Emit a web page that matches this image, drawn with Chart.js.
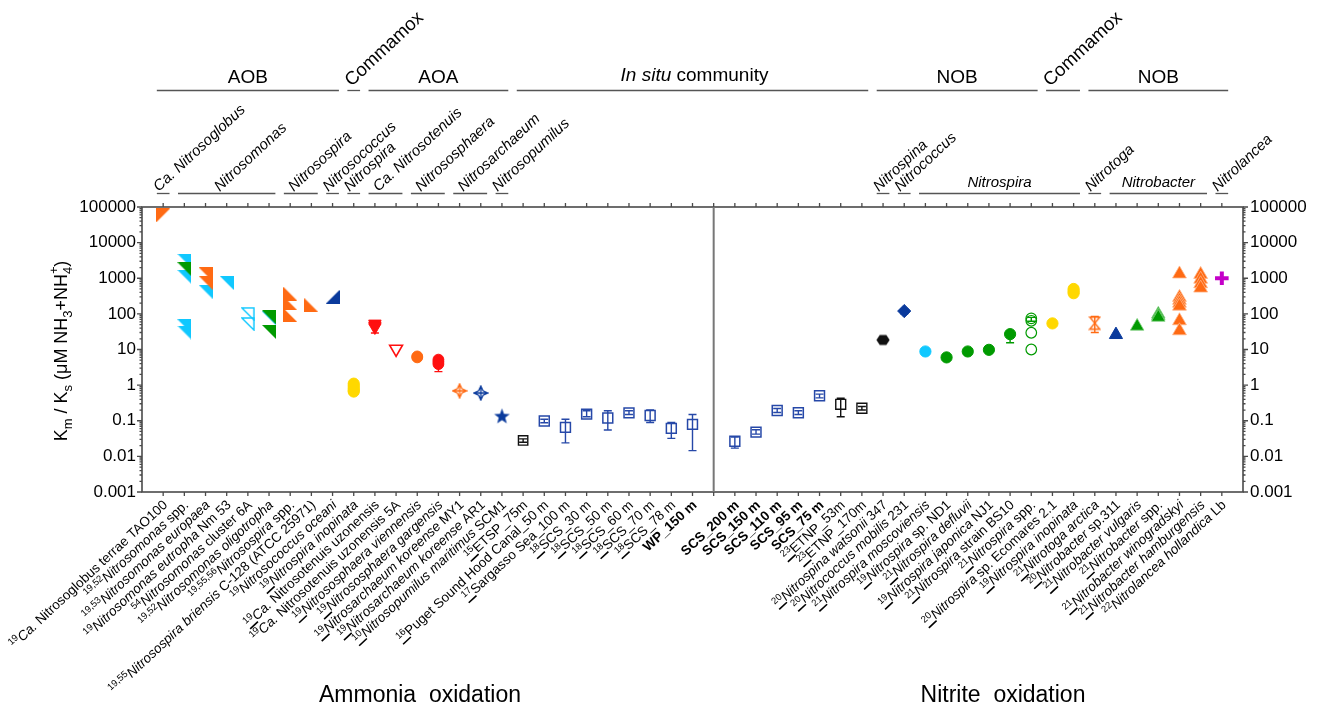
<!DOCTYPE html>
<html>
<head>
<meta charset="utf-8">
<script src="https://cdn.jsdelivr.net/npm/chart.js@4.4.1/dist/chart.umd.min.js"></script>
<style>
html,body{margin:0;padding:0;background:#ffffff;}
canvas{display:block;}
</style>
</head>
<body>
<canvas id="chart" width="1318" height="707"></canvas>
<script>
// ---------- x categories: [reference, underlined ref, italic part, plain part, bold part] ----------
const tickLabels = [
  ["19",0,"Ca."," Nitrosoglobus terrae TAO100",""],
  ["19,52",0,"Nitrosomonas"," spp.",""],
  ["19,53",0,"Nitrosomonas europaea","",""],
  ["19",0,"Nitrosomonas eutropha"," Nm 53",""],
  ["54",0,"Nitrosomonas"," cluster 6A",""],
  ["19,52",0,"Nitrosomonas oligotropha","",""],
  ["19,55,56",0,"Nitrosospira"," spp.",""],
  ["19,55",0,"Nitrosospira briensis"," C-128 (ATCC 25971)",""],
  ["19",0,"Nitrosococcus oceani","",""],
  ["19",1,"Nitrospira inopinata","",""],
  ["19",1,"Ca."," Nitrosotenuis uzonensis",""],
  ["19",0,"Ca."," Nitrosotenuis uzonensis 5A",""],
  ["19",1,"Nitrososphaera viennensis","",""],
  ["19",1,"Nitrososphaera gargensis","",""],
  ["19",1,"Nitrosarchaeum koreense"," MY1",""],
  ["19",1,"Nitrosarchaeum koreense"," AR1",""],
  ["10",1,"Nitrosopumilus maritimus"," SCM1",""],
  ["15",1,"","ETSP_75m",""],
  ["16",1,"","Puget Sound Hood Canal_50 m",""],
  ["17",1,"","Sargasso Sea_100 m",""],
  ["18",1,"","SCS_30 m",""],
  ["18",1,"","SCS_50 m",""],
  ["18",1,"","SCS_60 m",""],
  ["18",1,"","SCS_70 m",""],
  ["18",1,"","SCS_78 m",""],
  ["",0,"","","WP_150 m"],
  ["",0,"","",""],
  ["",0,"","","SCS_200 m"],
  ["",0,"","","SCS_150 m"],
  ["",0,"","","SCS_110 m"],
  ["",0,"","","SCS_95 m"],
  ["",0,"","","SCS_75 m"],
  ["23",1,"","ETNP_53m",""],
  ["23",1,"","ETNP_170m",""],
  ["20",1,"Nitrospina watsonii"," 347",""],
  ["20",1,"Nitrococcus mobilis"," 231",""],
  ["21",1,"Nitrospira moscoviensis","",""],
  ["19",1,"Nitrospira"," sp. ND1",""],
  ["21",1,"Nitrospira defluvii","",""],
  ["19",1,"Nitrospira japonica"," NJ1",""],
  ["21",1,"Nitrospira"," strain BS10",""],
  ["21",1,"Nitrospira"," spp.",""],
  ["20",1,"Nitrospira"," sp. Ecomares 2.1",""],
  ["19",1,"Nitrospira inopinata","",""],
  ["21",1,"Nitrotoga arctica","",""],
  ["20",1,"Nitrobacter"," sp.311",""],
  ["21",1,"Nitrobacter vulgaris","",""],
  ["21",1,"Nitrobacter"," spp.",""],
  ["21",1,"Nitrobacter winogradskyi","",""],
  ["21",1,"Nitrobacter hamburgensis","",""],
  ["22",0,"Nitrolancea hollandica"," Lb",""]
];

const yTickValues = [0.001,0.01,0.1,1,10,100,1000,10000,100000];
const yTickLabels = ["0.001","0.01","0.1","1","10","100","1000","10000","100000"];

// group headers: [text, first category, last category, kind]
const groupRow = [
  ["AOB",0,8,"flat"],["Commamox",9,9,"rot"],["AOA",10,16,"flat"],
  ["community",17,33,"insitu"],["NOB",34,41,"flat"],["Commamox",42,43,"rot"],["NOB",44,50,"flat"]
];
const genusRow = [
  ["Ca. Nitrosoglobus",0,0,"rot"],["Nitrosomonas",1,5,"rot"],["Nitrosospira",6,7,"rot"],
  ["Nitrosococcus",8,8,"rot"],["Nitrospira",9,9,"rot"],["Ca. Nitrosotenuis",10,11,"rot"],
  ["Nitrososphaera",12,13,"rot"],["Nitrosarchaeum",14,15,"rot"],["Nitrosopumilus",16,16,"rot"],
  ["Nitrospina",34,34,"rot"],["Nitrococcus",35,35,"rot"],["Nitrospira",36,43,"flat"],
  ["Nitrotoga",44,44,"rot"],["Nitrobacter",45,49,"flat"],["Nitrolancea",50,50,"rot"]
];
const bottomTitles = ["Ammonia  oxidation","Nitrite  oxidation"];

// ---------- data: [category index, value, (error low, error high)] ----------
const nitrosoglobusOrange = [[0,58000]];
const nitrosomonasOrange = [[2,1300],[2,750]];
const nitrosomonasGreen = [[1,1800],[5,80],[5,31]];
const nitrosomonasCyan = [[1,3100],[1,1100],[1,45],[1,30],[2,420],[3,740],[5,75]];
const nitrosomonasCyanOpen = [[4,100],[4,52]];
const nitrosospiraOrange = [[6,370],[6,200],[6,93],[7,175]];
const nitrosococcusNavy = [[8,300]];
const comammoxAOBYellow = [[9,1.1],[9,0.95],[9,0.82],[9,0.72],[9,0.66]];
const nitrosotenuisRed = [[10,53],[10,47,29,52],[10,42]];
const nitrosotenuis5ARed = [[11,10.4]];
const viennensisOrange = [[12,6.4],[12,6.0]];
const gargensisRed = [[13,5.2,2.4,5.6],[13,4.5],[13,3.9]];
const koreenseMY1 = [[14,0.69]];
const koreenseAR1 = [[15,0.6]];
const nitrosopumilusNavy = [[16,0.135]];
const etspBlack = [[17,0.028,0.025,0.031]];
const inSituAmmonia = [[18,0.098,0.088,0.11],[19,0.065,0.024,0.11],[20,0.153,0.13,0.19],[21,0.119,0.055,0.19],
  [22,0.166,0.15,0.19],[23,0.141,0.089,0.2],[24,0.061,0.032,0.089],[25,0.079,0.0145,0.15]];
const inSituNitrite = [[27,0.0265,0.017,0.035],[28,0.048,0.042,0.056],[29,0.194,0.17,0.22],[30,0.168,0.15,0.19],[31,0.505,0.44,0.56]];
const etnpBlack = [[32,0.29,0.13,0.43],[33,0.224,0.2,0.25]];
const nitrospinaBlack = [[34,18.5]];
const nitrococcusNavy = [[35,120,100,135]];
const moscoviensisCyan = [[36,8.8,7.4,8.8]];
const nitrospiraGreen = [[37,6],[38,8.8,7.5,9.6],[39,9.8],[40,27,15.5,27]];
const nitrospiraSppOpen = [[41,75,62,80],[41,64],[41,29.5],[41,10]];
const ecomaresYellow = [[42,54]];
const inopinataYellow = [[43,500],[43,430],[43,380]];
const nitrotogaOrange = [[44,55,30,85]];
const nitrobacterNavy = [[45,26]];
const nitrobacterGreen = [[46,45],[47,98],[47,88],[47,80]];
const nitrobacterOrange = [[48,1320],[48,290],[48,240],[48,200],[48,165],[48,64],[48,33.5],[49,1280],[49,940],[49,700],[49,530]];
const nitrolanceaMagenta = [[50,1000]];

// ---------- colours ----------
const ORANGE='#FF6A13', CYAN='#10C8FF', GREEN='#009A00', NAVY='#0A3A9C', RED='#FF1010',
      YELLOW='#FFD800', BLUE='#2648A8', BLACK='#111111', MAGENTA='#C400C8';
const F = '"Liberation Sans", Arial, Helvetica, sans-serif';

// ---------- custom marker images ----------
function mk(w,h,fn){const c=document.createElement('canvas');c.width=w;c.height=h;fn(c.getContext('2d'),w,h);return c;}
function rightTri(col, corner, hollow){
  return mk(14,14,(g,w,h)=>{
    const p={tl:[[0,0],[w,0],[0,h]],tr:[[0,0],[w,0],[w,h]],bl:[[0,0],[0,h],[w,h]],br:[[w,0],[w,h],[0,h]]}[corner];
    g.beginPath();
    const ins=hollow?1:0;
    p.forEach((q,k)=>{const x=q[0]===0?ins:q[0]-ins,y=q[1]===0?ins:q[1]-ins; k?g.lineTo(x,y):g.moveTo(x,y);});
    g.closePath();
    if(hollow){g.strokeStyle=col;g.lineWidth=1.4;g.stroke();}
    else{g.fillStyle=col;g.fill();}
  });
}
const star5 = mk(17,17,(g)=>{g.fillStyle=NAVY;g.beginPath();
  for(let k=0;k<10;k++){const r=k%2?3.4:8.2;const a=-Math.PI/2+k*Math.PI/5;const x=8.5+r*Math.cos(a),y=9+r*Math.sin(a);k?g.lineTo(x,y):g.moveTo(x,y);}
  g.closePath();g.fill();});
function starDiamond(col){return mk(16,16,(g)=>{g.strokeStyle=col;g.lineWidth=1.3;g.beginPath();
  const c=8,o=7,i=2.2;
  g.moveTo(c,c-o);g.lineTo(c+i,c-i);g.lineTo(c+o,c);g.lineTo(c+i,c+i);g.lineTo(c,c+o);g.lineTo(c-i,c+i);g.lineTo(c-o,c);g.lineTo(c-i,c-i);g.closePath();
  g.moveTo(c-o+1,c);g.lineTo(c+o-1,c);g.moveTo(c,c-o+1);g.lineTo(c,c+o-1);g.stroke();});}
const hexagon = mk(14,13,(g)=>{g.fillStyle=BLACK;g.beginPath();
  for(let k=0;k<6;k++){const a=k*Math.PI/3;const x=7+6.6*Math.cos(a),y=6.5+5.8*Math.sin(a);k?g.lineTo(x,y):g.moveTo(x,y);}g.closePath();g.fill();});
const hourglass = mk(13,15,(g)=>{g.strokeStyle=ORANGE;g.lineWidth=1.4;g.beginPath();
  g.moveTo(1.5,1.5);g.lineTo(11.5,1.5);g.lineTo(1.5,13.5);g.lineTo(11.5,13.5);g.closePath();g.stroke();});

function ds(arr, style, fill, stroke, opts){
  return Object.assign({
    data: arr.map(a=>({x:a[0],y:a[1]})),
    errs: arr.map(a=>a.length>=4?[a[2],a[3]]:null),
    pointStyle: style, pointBackgroundColor: fill, pointBorderColor: stroke,
    pointBorderWidth: 1, pointRadius: 6, showLine:false, errColor: stroke
  }, opts||{});
}
const TRANSP='rgba(0,0,0,0)';
const datasets = [
  ds(nitrosoglobusOrange, rightTri(ORANGE,'tl'), ORANGE, ORANGE),
  ds(nitrosomonasOrange, rightTri(ORANGE,'tr'), ORANGE, ORANGE),
  ds(nitrosomonasGreen, rightTri(GREEN,'tr'), GREEN, GREEN),
  ds(nitrosomonasCyan, rightTri(CYAN,'tr'), CYAN, CYAN),
  ds(nitrosomonasCyanOpen, rightTri(CYAN,'tr',true), CYAN, CYAN),
  ds(nitrosospiraOrange, rightTri(ORANGE,'bl'), ORANGE, ORANGE),
  ds(nitrosococcusNavy, rightTri(NAVY,'br'), NAVY, NAVY),
  ds(comammoxAOBYellow, 'circle', YELLOW, YELLOW, {pointRadius:5.6}),
  ds(nitrosotenuisRed, 'triangle', RED, RED, {pointRadius:7.2, pointRotation:180}),
  ds(nitrosotenuis5ARed, 'triangle', TRANSP, RED, {pointRadius:7.4, pointRotation:180, pointBorderWidth:1.6}),
  ds(viennensisOrange, 'circle', ORANGE, ORANGE, {pointRadius:5.4}),
  ds(gargensisRed, 'circle', RED, RED, {pointRadius:5.4}),
  ds(koreenseMY1, starDiamond(ORANGE), ORANGE, ORANGE),
  ds(koreenseAR1, starDiamond(NAVY), NAVY, NAVY),
  ds(nitrosopumilusNavy, star5, NAVY, NAVY),
  ds(etspBlack, 'rect', TRANSP, BLACK, {pointRadius:6.6, pointBorderWidth:1.4}),
  ds(inSituAmmonia, 'rect', TRANSP, BLUE, {pointRadius:7, pointBorderWidth:1.5}),
  ds(inSituNitrite, 'rect', TRANSP, BLUE, {pointRadius:7, pointBorderWidth:1.5}),
  ds(etnpBlack, 'rect', TRANSP, BLACK, {pointRadius:7, pointBorderWidth:1.4}),
  ds(nitrospinaBlack, hexagon, BLACK, BLACK),
  ds(nitrococcusNavy, 'rectRot', NAVY, NAVY, {pointRadius:6.6}),
  ds(moscoviensisCyan, 'circle', CYAN, CYAN, {pointRadius:5.6}),
  ds(nitrospiraGreen, 'circle', GREEN, GREEN, {pointRadius:5.6}),
  ds(nitrospiraSppOpen, 'circle', TRANSP, GREEN, {pointRadius:5.3, pointBorderWidth:1.2}),
  ds(ecomaresYellow, 'circle', YELLOW, YELLOW, {pointRadius:5.6}),
  ds(inopinataYellow, 'circle', YELLOW, YELLOW, {pointRadius:5.6}),
  ds(nitrotogaOrange, hourglass, ORANGE, ORANGE),
  ds(nitrobacterNavy, 'triangle', NAVY, NAVY, {pointRadius:7.6}),
  ds(nitrobacterGreen, 'triangle', GREEN, '#7fcf7f', {pointRadius:7.8, pointBorderWidth:0.8, errColor:GREEN}),
  ds(nitrobacterOrange, 'triangle', ORANGE, '#FFB487', {pointRadius:8, pointBorderWidth:0.8, errColor:ORANGE}),
  ds(nitrolanceaMagenta, 'cross', MAGENTA, MAGENTA, {pointRadius:6.8, pointBorderWidth:4})
];

// ---------- rich text helper ----------
function drawSegs(ctx, segs, x, y, angle, align){
  ctx.save(); ctx.translate(x,y); ctx.rotate(angle);
  ctx.textBaseline='alphabetic'; ctx.textAlign='left';
  let total=0; const ws=segs.map(s=>{ctx.font=s.f;const w=ctx.measureText(s.t).width;if(!s.overlay)total+=w;return w;});
  let cx = align==='right'?-total:(align==='center'?-total/2:0); let prev=cx;
  segs.forEach((s,k)=>{
    ctx.font=s.f; ctx.fillStyle=s.c||'#000';
    const sx=s.overlay?prev:cx;
    ctx.fillText(s.t,sx,s.dy||0);
    if(s.u){ctx.fillRect(sx,0.6,ws[k],1.6);}
    if(!s.overlay){prev=sx;cx+=ws[k];}
  });
  ctx.restore();
}
function tickSegs(l){
  const [ref,u,it,pl,bd]=l; const s=[];
  if(ref) s.push({t:ref,f:'9.5px '+F,dy:-5,u:!!u});
  if(it) s.push({t:it,f:'italic 13.5px '+F});
  if(pl) s.push({t:pl,f:'13.5px '+F});
  if(bd) s.push({t:bd,f:'bold 13.5px '+F});
  return s;
}

const decor = {
  id:'decor',
  beforeDatasetsDraw(chart){
    const {ctx, scales:{x,y}} = chart;
    ctx.save(); ctx.lineWidth=1.4;
    chart.data.datasets.forEach(d=>{
      d.errs.forEach((e,k)=>{
        if(!e) return;
        const px=x.getPixelForValue(d.data[k].x), y1=y.getPixelForValue(e[0]), y2=y.getPixelForValue(e[1]);
        ctx.strokeStyle=d.errColor; ctx.beginPath();
        ctx.moveTo(px,y1);ctx.lineTo(px,y2);
        ctx.moveTo(px-4,y1);ctx.lineTo(px+4,y1);
        ctx.moveTo(px-4,y2);ctx.lineTo(px+4,y2);
        ctx.stroke();
      });
    });
    ctx.restore();
  },
  afterDraw(chart){
    const {ctx, chartArea:a, scales:{x,y}} = chart;
    ctx.save();
    // frame
    ctx.strokeStyle='#4a4a4a'; ctx.lineWidth=1.6;
    ctx.strokeRect(a.left,a.top,a.right-a.left,a.bottom-a.top);
    // divider
    const dv=x.getPixelForValue(26);
    ctx.strokeStyle='#777'; ctx.lineWidth=2;
    ctx.beginPath();ctx.moveTo(dv,a.top);ctx.lineTo(dv,a.bottom);ctx.stroke();
    // x ticks
    ctx.strokeStyle='#4a4a4a'; ctx.lineWidth=1.3; ctx.beginPath();
    for(let i=0;i<tickLabels.length;i++){
      const px=x.getPixelForValue(i);
      ctx.moveTo(px,a.top);ctx.lineTo(px,a.top-4);
      ctx.moveTo(px,a.bottom);ctx.lineTo(px,a.bottom+4);
    }
    // y ticks (major + minor) both sides
    for(let d=0; d<yTickValues.length; d++){
      const v=yTickValues[d]; const py=y.getPixelForValue(v);
      ctx.moveTo(a.left,py);ctx.lineTo(a.left-5,py);
      ctx.moveTo(a.right,py);ctx.lineTo(a.right+5,py);
      if(d<yTickValues.length-1){
        for(let m=2;m<10;m++){const pm=y.getPixelForValue(v*m);
          ctx.moveTo(a.left,pm);ctx.lineTo(a.left-2.5,pm);
          ctx.moveTo(a.right,pm);ctx.lineTo(a.right+2.5,pm);}
      }
    }
    ctx.stroke();
    // y tick labels
    ctx.fillStyle='#000'; ctx.font='17px '+F; ctx.textBaseline='middle';
    yTickValues.forEach((v,k)=>{const py=y.getPixelForValue(v);
      ctx.textAlign='right'; ctx.fillText(yTickLabels[k],a.left-6,py);
      ctx.textAlign='left'; ctx.fillText(yTickLabels[k],a.right+7,py);});
    // x tick labels (rotated rich text)
    const ang=-43*Math.PI/180;
    tickLabels.forEach((l,i)=>{const s=tickSegs(l); if(!s.length) return;
      drawSegs(ctx,s,x.getPixelForValue(i)+5,a.bottom+14,ang,'right');});
    // y title
    const big='18px '+F, sm='13px '+F;
    drawSegs(ctx,[{t:'K',f:big},{t:'m',f:sm,dy:5},{t:' / K',f:big},{t:'s',f:sm,dy:5},
      {t:' (\u03bcM NH',f:big},{t:'3',f:sm,dy:5},{t:'+NH',f:big},{t:'4',f:sm,dy:5},{t:'+',f:sm,dy:-9,overlay:true},{t:')',f:big}],
      67,351,-Math.PI/2,'center');
    // group header row
    ctx.strokeStyle='#555'; ctx.lineWidth=1.3;
    groupRow.forEach(g=>{
      const x1=x.getPixelForValue(g[1]-0.3), x2=x.getPixelForValue(g[2]+0.3);
      ctx.beginPath();ctx.moveTo(x1,90.5);ctx.lineTo(x2,90.5);ctx.stroke();
      if(g[3]==='flat'){drawSegs(ctx,[{t:g[0],f:'19px '+F}],(x1+x2)/2,83,0,'center');}
      else if(g[3]==='insitu'){drawSegs(ctx,[{t:'In situ',f:'italic 19px '+F},{t:' '+g[0],f:'19px '+F}],(x1+x2)/2+2,81,0,'center');}
      else {drawSegs(ctx,[{t:g[0],f:'18.5px '+F}],x1+4,87,-43*Math.PI/180,'left');}
    });
    // genus row
    genusRow.forEach(g=>{
      const x1=x.getPixelForValue(g[1]-0.3), x2=x.getPixelForValue(g[2]+0.3);
      ctx.beginPath();ctx.moveTo(x1,193.5);ctx.lineTo(x2,193.5);ctx.stroke();
      if(g[3]==='flat'){drawSegs(ctx,[{t:g[0],f:'italic 15px '+F}],(x1+x2)/2,187,0,'center');}
      else{const sx = g[1]===g[2]? x1+2 : (x1+x2)/2-7;
        drawSegs(ctx,[{t:g[0],f:'italic 15px '+F}],sx,192,-43*Math.PI/180,'left');}
    });
    // bottom titles
    drawSegs(ctx,[{t:bottomTitles[0],f:'23px '+F}],420,702,0,'center');
    drawSegs(ctx,[{t:bottomTitles[1],f:'23px '+F}],1003,702,0,'center');
    ctx.restore();
  }
};

new Chart(document.getElementById('chart'),{
  type:'scatter',
  data:{datasets},
  options:{
    responsive:false, animation:false, devicePixelRatio:1, events:[],
    layout:{padding:{left:142,right:75,top:207,bottom:215}},
    plugins:{legend:{display:false},tooltip:{enabled:false}},
    scales:{
      x:{type:'linear',min:-1,max:51,display:false},
      y:{type:'logarithmic',min:0.001,max:100000,display:false}
    }
  },
  plugins:[decor]
});
</script>
</body>
</html>
